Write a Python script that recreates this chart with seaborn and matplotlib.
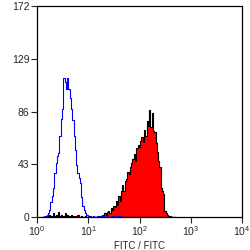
import numpy as np
import pandas as pd
import matplotlib
matplotlib.use("Agg")
import matplotlib.pyplot as plt
import seaborn as sns

# channel centres in log10 units, step 1/40 decade
bin_start = 0.1
bin_step = 0.025

# isotype control (blue outline)
control_counts = [0, 0, 1, 1, 2, 3, 6, 12, 17, 24,
                  36, 44, 50, 52, 66, 80, 88, 113, 110, 104,
                  113, 104, 97, 88, 79, 66, 55, 42, 36, 32,
                  28, 16, 9, 6, 3, 2, 1, 0, 1, 0,
                  1, 0, 0, 1, 0, 0, 1, 0, 1, 0,
                  0, 1, 0, 0, 1, 1, 0, 1, 0, 0,
                  1, 0, 0, 0, 0, 0, 0, 0, 0, 0,
                  0, 0, 0, 0, 0, 0, 0, 0, 0, 0,
                  0, 0, 0, 0, 0, 0, 0, 0, 0, 0,
                  0, 0, 0, 0, 0, 0, 0, 0, 0, 0,
                  0, 0, 0, 0, 0]

# stained sample (red fill, black outline)
stained_counts = [0, 0, 0, 0, 1, 0, 2, 1, 0, 3,
                  1, 2, 0, 4, 1, 2, 0, 1, 3, 0,
                  2, 1, 0, 2, 1, 0, 1, 0, 2, 0,
                  0, 1, 0, 0, 1, 0, 0, 0, 1, 0,
                  0, 0, 0, 1, 0, 1, 0, 2, 1, 3,
                  2, 4, 5, 3, 7, 6, 9, 8, 13, 10,
                  17, 13, 21, 26, 21, 29, 31, 37, 35, 41,
                  44, 47, 51, 46, 56, 59, 57, 62, 65, 61,
                  71, 66, 78, 74, 87, 73, 85, 70, 69, 60,
                  53, 46, 41, 24, 21, 19, 5, 3, 2, 1,
                  1, 0, 0, 0, 0]

y_ticks = [0, 43, 86, 129, 172]
x_label = "FITC / FITC"

centres = bin_start + bin_step * np.arange(len(stained_counts))
df = pd.DataFrame({
    "fitc": 10 ** centres,
    "control": control_counts,
    "stained": stained_counts,
})
brange = (centres[0] - bin_step / 2, centres[-1] + bin_step / 2)

sns.set_style("ticks")
plt.rcParams["font.family"] = ["Liberation Sans", "DejaVu Sans"]

fig = plt.figure(figsize=(2.5, 2.5), dpi=100)
ax = fig.add_axes([0.148, 0.132, 0.82, 0.844])

sns.histplot(data=df, x="fitc", weights="stained", log_scale=True,
             binwidth=bin_step, binrange=brange, element="step", fill=True,
             color="red", edgecolor="black", linewidth=0.8, alpha=1, ax=ax)
sns.histplot(data=df, x="fitc", weights="control", log_scale=True,
             binwidth=bin_step, binrange=brange, element="step", fill=False,
             color="blue", linewidth=0.8, ax=ax)

ax.set_xlim(1, 1e4)
ax.set_ylim(0, 172)
ax.set_yticks(y_ticks)
ax.set_xticks([1, 10, 100, 1000, 10000])
ax.minorticks_off()
ax.tick_params(axis="both", labelsize=7.5, length=4, width=0.8, direction="out", pad=1.5)
for s in ax.spines.values():
    s.set_visible(True)
    s.set_linewidth(0.9)
    s.set_color("black")
ax.set_xlabel(x_label, fontsize=7, labelpad=2)
ax.set_ylabel("")

fig.savefig("out.png", dpi=100, facecolor="white")
